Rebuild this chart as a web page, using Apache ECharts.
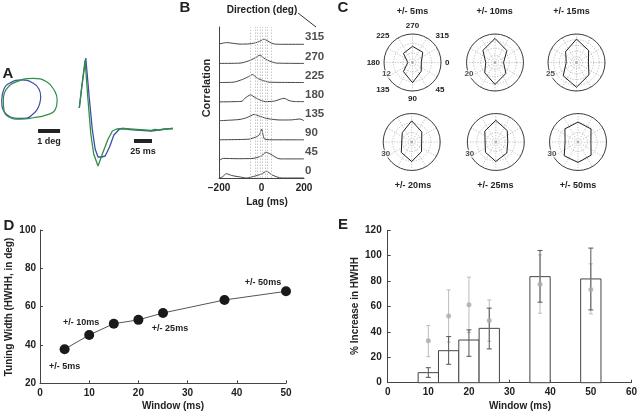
<!DOCTYPE html>
<html><head><meta charset="utf-8">
<script src="https://cdn.jsdelivr.net/npm/echarts@6/dist/echarts.min.js"></script>
<style>html,body{margin:0;padding:0;background:#fff}#c{width:640px;height:413px}</style>
</head><body><div id="c"></div>
<script>
const FONT = '"Liberation Sans", Arial, Helvetica, sans-serif';
const TXT = '#222';
const AX = '#444';

// ---------- Panel A ----------
const loopBlue = [[0.08,1.82],[0.18,2.32],[0.45,2.59],[0.99,2.73],[1.50,2.59],[1.77,2.32],[1.85,1.97],[1.80,1.64],[1.67,1.36],[1.45,1.14],[1.21,0.99],[0.82,0.98],[0.45,1.06],[0.20,1.27],[0.09,1.55],[0.08,1.82]];
const loopGreen = [[0.15,1.82],[0.30,2.32],[0.76,2.65],[1.51,2.80],[2.12,2.65],[2.50,2.20],[2.60,1.82],[2.50,1.36],[2.12,1.14],[1.51,1.01],[0.91,0.95],[0.38,1.06],[0.18,1.36],[0.15,1.82]];
const degBar = [[1.73,0.41],[2.73,0.41]];
const waveBlue = [[0,21],[4,45],[9,71],[14,30],[18,0],[22,-20],[26,-28],[31,-28],[36,-27],[42,-18],[48,-6],[56,0],[62,0.5],[70,-0.5],[80,-1],[90,-1.5],[100,-2],[110,-1],[120,0],[130,0.5]];
const waveGreen = [[0,21],[3,40],[8,69],[12,30],[16,-5],[20,-25],[26,-37],[32,-25],[40,-10],[46,-2],[52,0],[60,0.5],[70,0],[80,-0.5],[90,-1],[100,-1.5],[105,-0.5],[110,-1],[120,0],[130,0.5]];
const msBar = [[76,-12],[101,-12]];

// ---------- Panel B ----------
const directionLabels = ['0','45','90','135','180','225','270','315'];
const trace0   = [[-200,0],[-185,1],[-165,4.3],[-140,2.5],[-100,1],[-70,0],[-38,1.5],[0,4],[24,6.7],[50,3],[95,0],[200,0]];
const trace45  = [[-200,-1.7],[-180,0.5],[-120,0.2],[-40,0.5],[0,3],[21,6.7],[40,5],[87,0],[200,0]];
const trace90  = [[-200,0],[-100,0.3],[-57,0.7],[-30,2.5],[-10,5],[1,10.7],[8,4],[16,0.5],[60,0],[200,0]];
const trace135 = [[-200,0],[-150,0.5],[-101,1.3],[-70,3],[-50,5],[-34,6.3],[-15,5],[24,2.3],[87,0.7],[140,0.8],[181,1.7],[200,0]];
const trace180 = [[-200,-0.3],[-120,0],[-90,0.5],[-80,3],[-51,6.7],[-30,4],[0,1],[20,0],[60,0.5],[90,2.5],[106,3.3],[130,1],[160,0],[200,0]];
const trace225 = [[-200,0],[-133,0.3],[-90,3],[-60,6],[-41,8],[-25,5],[0,2.5],[40,0.3],[200,0]];
const trace270 = [[-200,0],[-101,0.3],[-60,2.5],[-30,5.5],[-7,8.3],[10,5.5],[30,3],[71,0.3],[200,0]];
const trace315 = [[-200,0.3],[-164,1.7],[-101,0.2],[-54,0.5],[-20,2],[0,4],[8,5],[20,4.5],[40,2],[60,0.3],[100,0],[200,0]];
const traces = [trace0,trace45,trace90,trace135,trace180,trace225,trace270,trace315];
const traceSpacing = 19.1;
const windowLags = [-52,-30,-20,-7,5,16,27,48];

// ---------- Panel C ----------
const polarTitles = ['+/- 5ms','+/- 10ms','+/- 15ms','+/- 20ms','+/- 25ms','+/- 50ms'];
const polarRmax = [12,20,25,30,30,30];
const polarRing = [4,5,5,10,10,10];
const polarDirs = [0,45,90,135,180,225,270,315];
const tun5  = [3.7,5.2,8.5,5.4,2.0,5.4,6.8,6.1];
const tun10 = [6.0,10.8,15.4,10.2,6.5,12.0,16.9,11.8];
const tun15 = [10.5,15.4,21.7,16.5,9.0,13.5,20.5,15.0];
const tun20 = [10.5,14.5,20.5,15.5,10.5,14.0,22.3,15.0];
const tun25 = [12.6,16.4,20.5,15.4,11.3,16.3,22.8,17.0];
const tun50 = [13.6,19.5,21.5,20.5,13.6,19.5,21.0,19.4];
const tunings = [tun5,tun10,tun15,tun20,tun25,tun50];

// ---------- Panel D ----------
const windowsD = [5,10,15,20,25,37.5,50];
const hwhh = [37.8,45.2,51.1,53.1,56.7,63.5,68.0];
const dLabels = {5:'+/- 5ms',10:'+/- 10ms',25:'+/- 25ms',50:'+/- 50ms'};

// ---------- Panel E ----------
const windowsE = [10,15,20,25,37.5,50];
const binWidth = 5;
const incr = [7.9,25.2,33.6,42.8,83.5,81.7];
const incrLow = [4.2,14.5,20.8,26.6,63.4,57.3];
const incrHigh = [11.8,36.3,41.6,58.7,104.1,106.0];
const grayMean = [33.1,52.6,61.3,48.9,77.6,73.4];
const grayLow = [20.5,32.0,39.5,32.6,54.7,54.2];
const grayHigh = [45.0,73.1,83.1,65.2,100.7,93.6];

// ================= layout =================
const polarCenters = [[412.5,62.5],[495,62.5],[576.5,62.5],[411.7,142],[495.8,142],[578,142]];
const polarR = 28.5;
const polarTitlePos = [[412.5,12],[494.7,12],[571.5,12],[413,185.7],[495.3,185.7],[578,185.7]];

const txt = (x,y,text,size,o={}) => ({type:'text', x, y, rotation:o.rot||0, z:10,
  style:{text, font:`bold ${size}px ${FONT}`, fill:o.color||TXT,
    align:o.align||'center', verticalAlign:'middle', textAlign:o.align||'center', textVerticalAlign:'middle'}});

const grids = [
  {left:0, top:74, width:66, height:66},          // 0 loops
  {left:79.3, top:55, width:93.6, height:115},     // 1 waveforms
  {left:219, top:27, width:85, height:151},        // 2 B
  {left:40, top:230, width:246, height:153.3},     // 3 D
  {left:387.7, top:230.3, width:246, height:152.4} // 4 E
];
const hidden = {show:false};
const axLbl = {color:TXT, fontFamily:FONT, fontWeight:'bold', fontSize:10};

const xAxes = [
  {gridIndex:0, type:'value', min:0, max:3, show:false},
  {gridIndex:1, type:'value', min:0, max:130, show:false},
  {gridIndex:2, type:'value', min:-200, max:200, interval:200,
    axisLine:{show:true, onZero:false, lineStyle:{color:AX, width:1}}, axisTick:{show:false}, splitLine:hidden,
    axisLabel:Object.assign({margin:5, formatter:v=> v<0 ? '\u2212'+(-v) : String(v)}, axLbl)},
  {gridIndex:3, type:'value', min:0, max:50, interval:10,
    axisLine:{onZero:false, lineStyle:{color:AX}}, axisTick:{inside:true, length:3, lineStyle:{color:AX}}, splitLine:hidden,
    axisLabel:Object.assign({margin:5}, axLbl)},
  {gridIndex:4, type:'value', min:0, max:60, interval:10,
    axisLine:{onZero:false, lineStyle:{color:AX}}, axisTick:{inside:true, length:3, lineStyle:{color:AX}}, splitLine:hidden,
    axisLabel:Object.assign({margin:5}, axLbl)}
];
const yAxes = [
  {gridIndex:0, type:'value', min:0, max:3, show:false},
  {gridIndex:1, type:'value', min:-41, max:74, show:false},
  {gridIndex:2, type:'value', min:0, max:151, axisLine:{show:true, onZero:false, lineStyle:{color:AX}}, axisTick:hidden, axisLabel:hidden, splitLine:hidden},
  {gridIndex:3, type:'value', min:20, max:100, interval:20,
    axisLine:{show:true, onZero:false, lineStyle:{color:AX}}, axisTick:{show:true, inside:true, length:3, lineStyle:{color:AX}}, splitLine:hidden,
    axisLabel:Object.assign({margin:4}, axLbl)},
  {gridIndex:4, type:'value', min:0, max:120, interval:20,
    axisLine:{show:true, onZero:false, lineStyle:{color:AX}}, axisTick:{show:true, inside:true, length:3, lineStyle:{color:AX}}, splitLine:hidden,
    axisLabel:Object.assign({margin:6}, axLbl)}
];

const series = [];
const BLUE = '#3d4fa6', GREEN = '#2f8e45';
// A
series.push({type:'line', xAxisIndex:0, yAxisIndex:0, data:loopBlue, smooth:0.5, symbol:'none', lineStyle:{color:BLUE, width:1.2}});
series.push({type:'line', xAxisIndex:0, yAxisIndex:0, data:loopGreen, smooth:0.5, symbol:'none', lineStyle:{color:GREEN, width:1.2}});
series.push({type:'line', xAxisIndex:0, yAxisIndex:0, data:degBar, symbol:'none', lineStyle:{color:'#222', width:4, cap:'butt'}});
series.push({type:'line', xAxisIndex:1, yAxisIndex:1, data:waveBlue, symbol:'none', lineStyle:{color:BLUE, width:1.3}});
series.push({type:'line', xAxisIndex:1, yAxisIndex:1, data:waveGreen, symbol:'none', lineStyle:{color:GREEN, width:1.3}});
series.push({type:'line', xAxisIndex:1, yAxisIndex:1, data:msBar, symbol:'none', lineStyle:{color:'#222', width:4, cap:'butt'}});
// B
traces.forEach((tr,k) => {
  const s = {type:'line', xAxisIndex:2, yAxisIndex:2, symbol:'none', smooth:0.25,
    data: tr.map(p => [p[0], k*traceSpacing + p[1]]), lineStyle:{color:'#444', width:1}, z:3};
  if (k === 0) {
    s.markLine = {silent:true, symbol:'none', label:{show:false},
      lineStyle:{type:[1.5,1.5], color:'#bbb', width:0.8}, data: windowLags.map(v => ({xAxis:v}))};
  }
  series.push(s);
});
series.push({type:'scatter', xAxisIndex:2, yAxisIndex:2, symbolSize:0,
  data: directionLabels.map((d,k) => [200, k*traceSpacing, d]),
  label:{show:true, position:'right', distance:1, offset:[0,-7], formatter:p=>p.value[2],
    color:TXT, fontFamily:FONT, fontWeight:'bold', fontSize:11.5}});
// C
const polars = [], angleAxes = [], radiusAxes = [];
polarCenters.forEach((c,i) => {
  polars.push({center:c, radius:polarR});
  angleAxes.push({polarIndex:i, type:'value', min:0, max:360, interval:30, startAngle:0, clockwise:true,
    axisLine:{show:true, lineStyle:{color:'#333', width:0.9}}, axisTick:hidden, axisLabel:hidden,
    splitLine:{show:true, lineStyle:{type:[1.2,1.5], color:'#999', width:0.6}}});
  radiusAxes.push({polarIndex:i, type:'value', min:0, max:polarRmax[i], interval:polarRing[i],
    axisLine:hidden, axisTick:hidden, axisLabel:hidden,
    splitLine:{show:true, lineStyle:{type:[1.2,1.5], color:'#999', width:0.6}}});
  const pts = polarDirs.map((d,j) => [tunings[i][j], d]);
  pts.push(pts[0]);
  series.push({type:'line', coordinateSystem:'polar', polarIndex:i, data:pts, symbol:'none',
    lineStyle:{color:'#222', width:1}, z:4});
  series.push({type:'scatter', coordinateSystem:'polar', polarIndex:i, symbolSize:0,
    data:[[polarRmax[i], 156]], z:5,
    label:{show:true, position:'inside', formatter:String(polarRmax[i]), backgroundColor:'#fff', padding:[0,0],
      color:TXT, fontFamily:FONT, fontWeight:'bold', fontSize:8}});
});
// label polar for the first plot
polars.push({center:polarCenters[0], radius:polarR});
angleAxes.push({polarIndex:6, type:'value', min:0, max:360, interval:45, startAngle:0, clockwise:true,
  axisLine:hidden, axisTick:hidden, splitLine:hidden,
  axisLabel:{show:true, margin:4, formatter:v => v>=360 ? '' : String(v), color:TXT, fontFamily:FONT, fontWeight:'bold', fontSize:8}});
radiusAxes.push({polarIndex:6, type:'value', min:0, max:12, show:false});

// D
series.push({type:'line', xAxisIndex:3, yAxisIndex:3, symbol:'circle', symbolSize:10,
  itemStyle:{color:'#1a1a1a'}, lineStyle:{color:'#555', width:1},
  data: windowsD.map((w,i) => {
    const item = {value:[w, hwhh[i]]};
    if (dLabels[w]) {
      const off = {5:[0,17],10:[-8,-12],25:[7,16],50:[-23,-9]}[w];
      item.label = {show:true, position:'inside', offset:off, formatter:dLabels[w],
        color:TXT, fontFamily:FONT, fontWeight:'bold', fontSize:9};
    }
    return item;
  })});

// E
series.push({type:'custom', xAxisIndex:4, yAxisIndex:4, z:2,
  data: windowsE.map((w,i) => [w, incr[i]]),
  renderItem:(params, api) => {
    const x = api.value(0), h = api.value(1);
    const a = api.coord([x - binWidth/2, h]), b = api.coord([x + binWidth/2, 0]);
    return {type:'rect', shape:{x:a[0], y:a[1], width:b[0]-a[0], height:b[1]-a[1]},
      style:{fill:'#fff', stroke:'#444', lineWidth:1}};
  }});
const errRender = (color, cap, lw) => (params, api) => {
  const x = api.value(0);
  const lo = api.coord([x, api.value(1)]), hi = api.coord([x, api.value(2)]);
  return {type:'group', children:[
    {type:'line', shape:{x1:lo[0], y1:lo[1], x2:hi[0], y2:hi[1]}, style:{stroke:color, lineWidth:lw}},
    {type:'line', shape:{x1:lo[0]-cap, y1:lo[1], x2:lo[0]+cap, y2:lo[1]}, style:{stroke:color, lineWidth:lw}},
    {type:'line', shape:{x1:hi[0]-cap, y1:hi[1], x2:hi[0]+cap, y2:hi[1]}, style:{stroke:color, lineWidth:lw}}
  ]};
};
series.push({type:'custom', xAxisIndex:4, yAxisIndex:4, z:3,
  data: windowsE.map((w,i) => [w, grayLow[i], grayHigh[i]]), renderItem: errRender('#bbb', 2, 1)});
series.push({type:'custom', xAxisIndex:4, yAxisIndex:4, z:4,
  data: windowsE.map((w,i) => [w, incrLow[i], incrHigh[i]]), renderItem: errRender('#555', 2.5, 1)});
series.push({type:'scatter', xAxisIndex:4, yAxisIndex:4, symbolSize:5, z:5,
  itemStyle:{color:'#aaa'}, data: windowsE.map((w,i) => [w, grayMean[i]])});

// text
const graphics = [
  txt(8,74,'A',15), txt(185,8,'B',15), txt(343,8,'C',15), txt(9,226,'D',15), txt(343,225,'E',15),
  txt(49,142,'1 deg',9), txt(143,152,'25 ms',9),
  txt(262,10,'Direction (deg)',10),
  {type:'line', shape:{x1:298,y1:13,x2:316,y2:27}, style:{stroke:'#333', lineWidth:1}},
  txt(207,88,'Correlation',11,{rot:Math.PI/2}),
  txt(267,202,'Lag (ms)',10),
  txt(9,307,'Tuning Width (HWHH, in deg)',10,{rot:Math.PI/2}),
  txt(173,406,'Window (ms)',10),
  txt(355,306,'% Increase in HWHH',10,{rot:Math.PI/2}),
  txt(520,406,'Window (ms)',10)
];
polarTitles.forEach((t,i) => graphics.push(txt(polarTitlePos[i][0], polarTitlePos[i][1], t, 9)));

const chart = echarts.init(document.getElementById('c'), null, {renderer:'canvas'});
chart.setOption({
  animation:false, backgroundColor:'#fff',
  textStyle:{fontFamily:FONT},
  grid:grids, xAxis:xAxes, yAxis:yAxes,
  polar:polars, angleAxis:angleAxes, radiusAxis:radiusAxes,
  series, graphic:graphics
});
</script></body></html>
